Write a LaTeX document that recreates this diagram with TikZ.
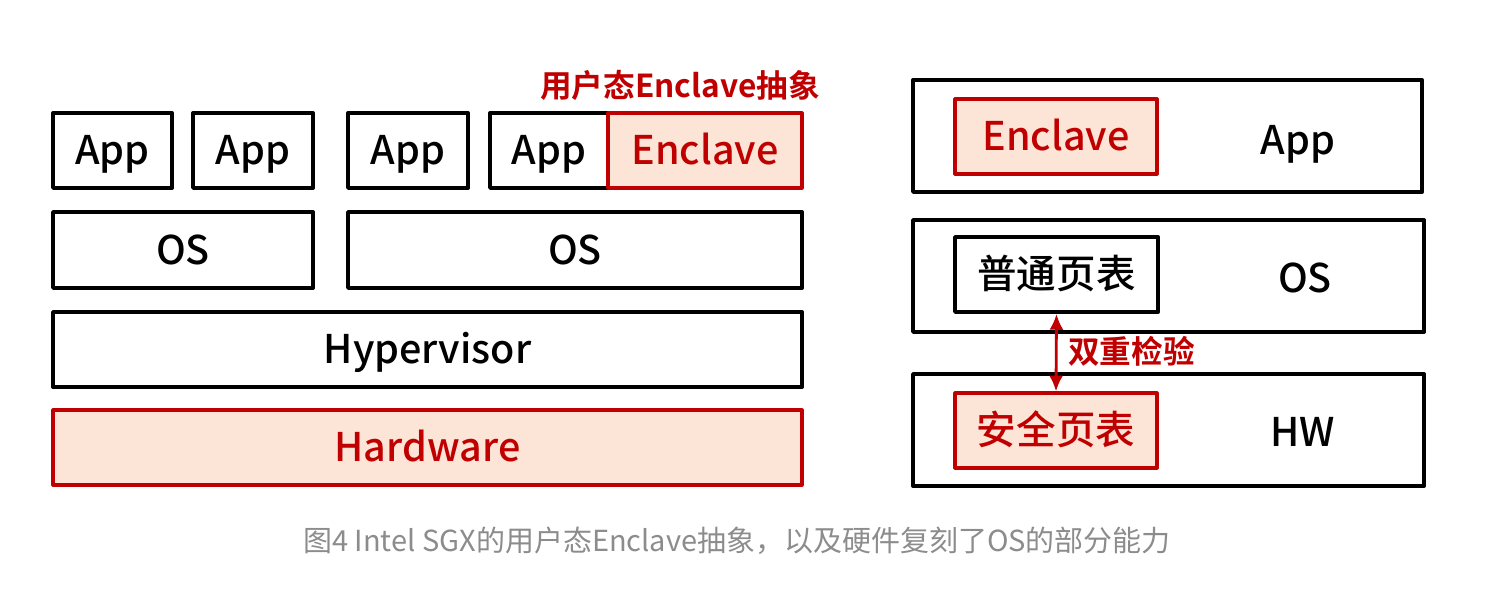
\documentclass[tikz,border=0pt]{standalone}
\usepackage{fontspec}
\setmainfont{Noto Sans CJK SC}[UprightFont=* Medium, BoldFont=* Bold]
\newfontfamily\capfont{Noto Sans CJK SC}
\usetikzlibrary{fit,arrows.meta}
\definecolor{sgxred}{HTML}{C00000}
\definecolor{sgxpink}{HTML}{FCE4D6}
\definecolor{capgray}{HTML}{8C8C8C}
\tikzset{
  layer/.style={draw=black, line width=2.2pt, inner sep=0pt, fill=white},
  secure/.style={draw=sgxred, line width=1.8pt, inner sep=0pt, fill=sgxpink},
  lbl/.style={font=\fontsize{22.5}{25}\selectfont, text height=16.5pt, text depth=0pt, inner sep=0pt},
  redlbl/.style={lbl, text=sgxred},
  note/.style={font=\bfseries\fontsize{18}{20}\selectfont, text=sgxred, text height=13pt, text depth=0pt, inner sep=0pt},
}
\begin{document}
\begin{tikzpicture}[x=0.02cm, y=-0.02cm, line cap=round, line join=round]
\useasboundingbox (0,0) rectangle (1492,597);

% left: SGX stack
\node[layer, fit={(53,113) (172,188)}] (app1) {};
\node[layer, fit={(193,113) (313,188)}] (app2) {};
\node[layer, fit={(348,113) (468,188)}] (app3) {};
\node[layer, fit={(490,113) (608,188)}] (app4) {};
\node[secure, fit={(608,113) (802,188)}] (encl) {};
\node[layer, fit={(53,212) (313,288)}] (os1) {};
\node[layer, fit={(348,212) (802,288)}] (os2) {};
\node[layer, fit={(53,312) (802,387)}] (hyp) {};
\node[secure, fit={(53,410) (802,485)}] (hw) {};

\node[lbl] (tapp1) at (app1.center) {App};
\node[lbl] (tapp2) at (app2.center) {App};
\node[lbl] (tapp3) at (app3.center) {App};
\node[lbl] (tapp4) at (app4.center) {App};
\node[redlbl] (tencl) at (encl.center) {Enclave};
\node[lbl] (tos1) at (os1.center) {OS};
\node[lbl] (tos2) at (os2.center) {OS};
\node[lbl] (thyp) at (hyp.center) {Hypervisor};
\node[redlbl] (thw) at (hw.center) {Hardware};
\node[note] (abstr) at (680,86) {用户态Enclave抽象};

% right: page tables
\node[layer, fit={(913,80) (1422,192)}] (rapp) {};
\node[secure, fit={(955,99) (1157,174)}] (renc) {};
\node[layer, fit={(913,220) (1424,332)}] (ros) {};
\node[layer, fit={(955,237) (1158,312)}] (npt) {};
\node[layer, fit={(913,374) (1424,486)}] (rhw) {};
\node[secure, fit={(955,393) (1157,468)}] (spt) {};

\node[redlbl] (trenc) at (renc.center) {Enclave};
\node[lbl] (trapp) at (1298,140) {App};
\node[lbl] (tnpt) at (npt.center) {普通页表};
\node[lbl] (tros) at (1305,278) {OS};
\node[redlbl] (tspt) at (spt.center) {安全页表};
\node[lbl] (trhw) at (1303,432) {HW};

\draw[sgxred, line width=1.6pt, {Latex[length=9pt,width=8pt]}-{Latex[length=9pt,width=8pt]}] (npt.south) -- (spt.north);
\node[note, anchor=west] (check) at (1068,352) {双重检验};

% caption
\node[font=\capfont\fontsize{16.5}{18}\selectfont, text=capgray, text height=12pt, text depth=0pt, inner sep=0pt] (cap) at (737,541)
  {图4 Intel SGX的用户态Enclave抽象，以及硬件复刻了OS的部分能力};
\end{tikzpicture}
\end{document}
